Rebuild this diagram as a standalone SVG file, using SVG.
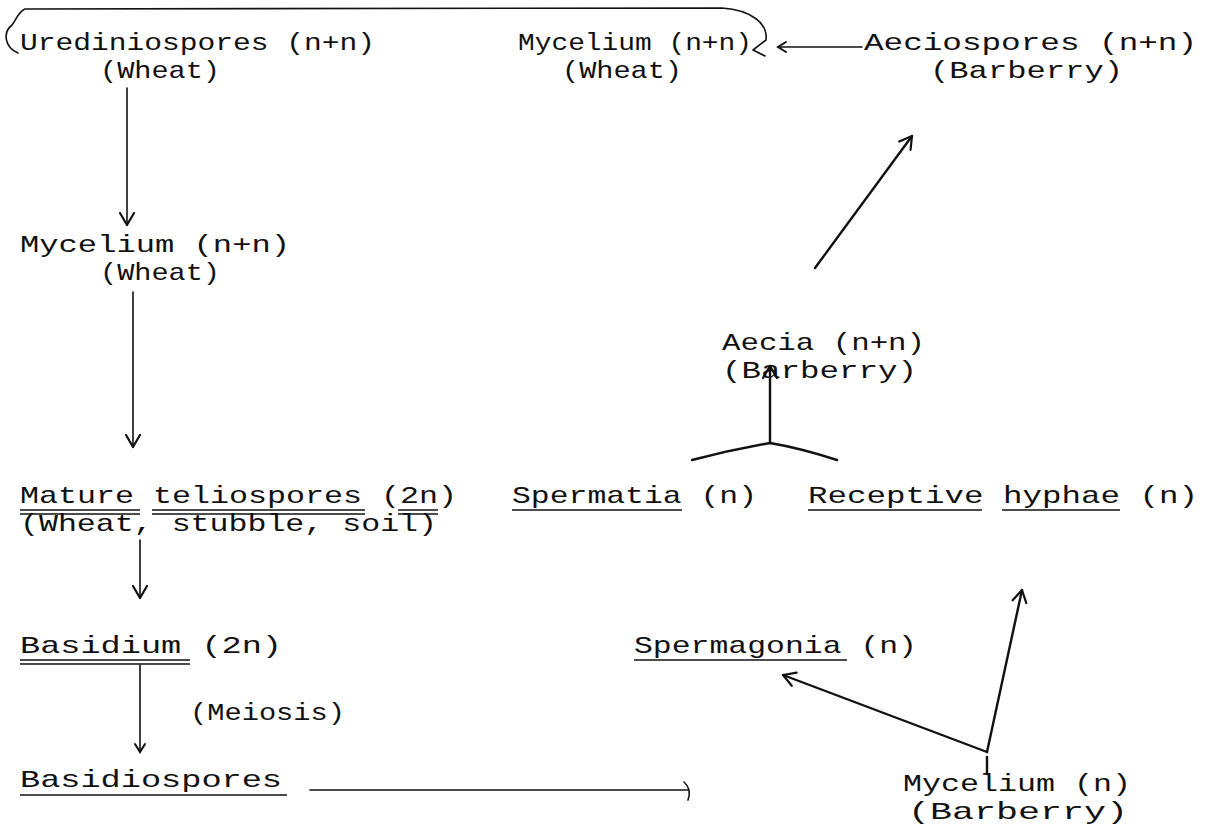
<svg xmlns="http://www.w3.org/2000/svg" width="1207" height="826" viewBox="0 0 1207 826">
<defs>
<style>
text{font-family:"Liberation Mono","DejaVu Sans Mono",monospace;font-size:24px;fill:#111;}
.c{fill:none;stroke:#111;stroke-width:1.6;stroke-linecap:round;stroke-linejoin:round;}
.t{stroke-width:2.4;}
.u{stroke:#111;stroke-width:1.6;}
</style>
<marker id="ah" viewBox="0 0 30 30" refX="15" refY="15" markerWidth="30" markerHeight="30" orient="auto" markerUnits="userSpaceOnUse">
<path d="M3,8 L15,15 L3,22" fill="none" stroke="#111" stroke-width="2.2" stroke-linecap="round" stroke-linejoin="round"/>
</marker>
<marker id="ahs" viewBox="0 0 30 30" refX="15" refY="15" markerWidth="30" markerHeight="30" orient="auto" markerUnits="userSpaceOnUse">
<path d="M7,10 L15,15 L7,20" fill="none" stroke="#111" stroke-width="2" stroke-linecap="round"/>
</marker>
</defs>
<rect width="1207" height="826" fill="#fff"/>

<g id="connectors">
<path class="c" d="M18,53 C4,47 3,32 12,25 C16,20 18,12 25,9 L722,8 C752,10 768,24 766,40 L753,50 L765,56"/>
<path class="c" d="M862,47 L778,47" marker-end="url(#ahs)"/>
<path class="c" d="M127,88 L127,225" marker-end="url(#ah)"/>
<path class="c" d="M133,292 L133,447" marker-end="url(#ah)"/>
<path class="c" d="M140,540 L140,598" marker-end="url(#ah)"/>
<path class="c" d="M140,665 L140,752" marker-end="url(#ahs)"/>
<path class="c" d="M310,790 L688,790"/>
<path class="c" d="M684,782 Q692,789 688,800"/>
<path class="c t" d="M815,268 L912,136" marker-end="url(#ah)"/>
<path class="c t" d="M770,443 L770,366" marker-end="url(#ah)"/>
<path class="c t" d="M692,460 Q730,450 770,443 Q800,448 837,460"/>
<path class="c t" d="M987,752 L1022,590" marker-end="url(#ah)"/>
<path class="c t" d="M987,752 L783,675" marker-end="url(#ah)"/>
<path class="c t" d="M987,757 L987,774"/>
</g>

<g id="urediniospores">
<text x="20" y="50" textLength="355" lengthAdjust="spacingAndGlyphs">Urediniospores (n+n)</text>
<text x="100" y="78" textLength="120" lengthAdjust="spacingAndGlyphs">(Wheat)</text>
</g>
<g id="mycelium-wheat-top">
<text x="518" y="50" textLength="234" lengthAdjust="spacingAndGlyphs">Mycelium (n+n)</text>
<text x="562" y="78" textLength="120" lengthAdjust="spacingAndGlyphs">(Wheat)</text>
</g>
<g id="aeciospores">
<text x="864" y="50" textLength="333" lengthAdjust="spacingAndGlyphs">Aeciospores (n+n)</text>
<text x="930" y="78" textLength="193" lengthAdjust="spacingAndGlyphs">(Barberry)</text>
</g>
<g id="mycelium-wheat">
<text x="20" y="252" textLength="270" lengthAdjust="spacingAndGlyphs">Mycelium (n+n)</text>
<text x="100" y="280" textLength="120" lengthAdjust="spacingAndGlyphs">(Wheat)</text>
</g>
<g id="aecia">
<text x="722" y="350" textLength="203" lengthAdjust="spacingAndGlyphs">Aecia (n+n)</text>
<text x="722" y="378" textLength="195" lengthAdjust="spacingAndGlyphs">(Barberry)</text>
</g>
<g id="teliospores">
<text x="20" y="503" textLength="437" lengthAdjust="spacingAndGlyphs">Mature teliospores (2n)</text>
<text x="20" y="531" textLength="417" lengthAdjust="spacingAndGlyphs">(Wheat, stubble, soil)</text>
<line class="u" x1="20" y1="510" x2="140" y2="510"/><line class="u" x1="20" y1="514" x2="140" y2="514"/>
<line class="u" x1="152" y1="510" x2="365" y2="510"/><line class="u" x1="152" y1="514" x2="365" y2="514"/>
<line class="u" x1="398" y1="510" x2="438" y2="510"/><line class="u" x1="398" y1="514" x2="438" y2="514"/>
</g>
<g id="spermatia">
<text x="512" y="503" textLength="245" lengthAdjust="spacingAndGlyphs">Spermatia (n)</text>
<line class="u" x1="512" y1="510" x2="682" y2="510"/>
</g>
<g id="receptive-hyphae">
<text x="808" y="503" textLength="390" lengthAdjust="spacingAndGlyphs">Receptive hyphae (n)</text>
<line class="u" x1="808" y1="510" x2="982" y2="510"/>
<line class="u" x1="1002" y1="510" x2="1120" y2="510"/>
</g>
<g id="basidium">
<text x="20" y="653" textLength="262" lengthAdjust="spacingAndGlyphs">Basidium (2n)</text>
<line class="u" x1="20" y1="660" x2="190" y2="660"/><line class="u" x1="20" y1="664" x2="190" y2="664"/>
</g>
<g id="spermagonia">
<text x="634" y="653" textLength="283" lengthAdjust="spacingAndGlyphs">Spermagonia (n)</text>
<line class="u" x1="634" y1="660" x2="847" y2="660"/>
</g>
<g id="meiosis">
<text x="190" y="720" textLength="155" lengthAdjust="spacingAndGlyphs">(Meiosis)</text>
</g>
<g id="basidiospores">
<text x="20" y="787" textLength="262" lengthAdjust="spacingAndGlyphs">Basidiospores</text>
<line class="u" x1="20" y1="795" x2="287" y2="795"/>
</g>
<g id="mycelium-barberry">
<text x="903" y="791" textLength="228" lengthAdjust="spacingAndGlyphs">Mycelium (n)</text>
<text x="908" y="819" textLength="220" lengthAdjust="spacingAndGlyphs">(Barberry)</text>
</g>
</svg>
